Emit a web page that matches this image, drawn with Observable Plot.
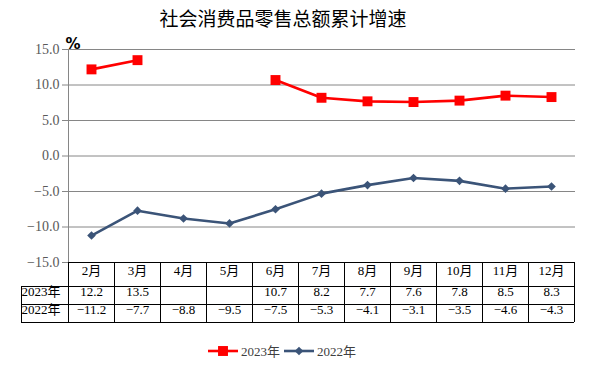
<!DOCTYPE html>
<html><head><meta charset="utf-8">
<script src="https://cdn.jsdelivr.net/npm/d3@7"></script>
<script src="https://cdn.jsdelivr.net/npm/@observablehq/plot@0.6"></script>
<style>
body{margin:0;background:#fff;}
#wrap{position:relative;width:590px;height:371px;overflow:hidden;background:#fff;}
#title{position:absolute;top:4px;left:0;width:566px;text-align:center;font-family:"Noto Sans CJK SC",sans-serif;font-size:19px;color:#000;}
#legend{position:absolute;top:341px;left:0;width:564px;display:flex;justify-content:center;gap:4px;font-family:"Liberation Serif","Noto Sans CJK SC",serif;font-size:13px;color:#404040;align-items:center;}
#legend .item{display:flex;align-items:center;gap:3px;}
#plot{position:absolute;top:0;left:0;}
#plot svg text{font-family:"Liberation Serif","Noto Sans CJK SC",serif;}
#plot svg g.unit text{font-family:"DejaVu Sans",sans-serif;font-size:15px;font-weight:bold;}
</style></head><body><div id="wrap"><div id="plot"></div><div id="title"></div><div id="legend"></div></div>
<script>
const months = ["2月","3月","4月","5月","6月","7月","8月","9月","10月","11月","12月"];
const series = ["2023年","2022年"];
const values2023 = [12.2,13.5,null,null,10.7,8.2,7.7,7.6,7.8,8.5,8.3];
const values2022 = [-11.2,-7.7,-8.8,-9.5,-7.5,-5.3,-4.1,-3.1,-3.5,-4.6,-4.3];
const yTicks = [-15,-10,-5,0,5,10,15];
const colors = ["#ff0000","#3b5478"];
const symbols = ["square","diamond2"];
const titleText = "社会消费品零售总额累计增速";
const unit = "%";

const fmt = d3.format(".1f");
const font = '"Liberation Serif","Noto Sans CJK SC",serif';
const seriesValues = [values2023, values2022];
const data = series.flatMap((s, k) => months.map((m, i) => ({month: m, series: s, value: seriesValues[k][i]})));
const radii = [5.6, 3.9];
const rowDy = [33, 51];

const marks = [
  Plot.ruleY(yTicks, {stroke: "#868686", strokeWidth: 1}),
  Plot.axisY({ticks: yTicks, tickFormat: fmt, tickSize: 5, tickPadding: 3, stroke: "#868686", fill: "#595959", fontSize: 14, label: null}),
  Plot.text([unit], {frameAnchor: "top-left", text: d => d, dx: -2, dy: -11, fill: "#000", className: "unit"}),
  Plot.line(data, {x: "month", y: "value", z: "series", stroke: "series", strokeWidth: 2.6}),
  Plot.text(months, {x: d => d, text: d => d, frameAnchor: "bottom", dy: 12, fill: "#000", fontSize: 13})
];
series.forEach((s, k) => {
  const sub = data.filter(d => d.series === s);
  marks.push(Plot.dot(sub, {x: "month", y: "value", fill: "series", symbol: "series", r: radii[k], stroke: "none"}));
  marks.push(Plot.text(sub, {x: "month", text: d => d.value == null ? "" : fmt(d.value), frameAnchor: "bottom", dy: rowDy[k], fill: "#000", fontSize: 13}));
  marks.push(Plot.text([s], {text: d => d, frameAnchor: "bottom-left", textAnchor: "start", dx: -46, dy: rowDy[k], fill: "#000", fontSize: 13}));
});

const plot = Plot.plot({
  width: 590, height: 371,
  marginTop: 49, marginBottom: 109, marginLeft: 67, marginRight: 15,
  style: {fontFamily: font, fontSize: "13px", background: "transparent", overflow: "visible"},
  x: {type: "point", domain: months, padding: 0.5, axis: null},
  y: {domain: [-15, 15], axis: null},
  color: {domain: series, range: colors},
  symbol: {domain: series, range: symbols},
  marks
});
document.getElementById("plot").appendChild(plot);

// axis line + table grid from the plot's scales
const xs = plot.scale("x"), ys = plot.scale("y");
const pos = months.map(m => xs.apply(m));
const step = pos[1] - pos[0];
const tLeft = pos[0] - step / 2, tRight = pos[pos.length - 1] + step / 2;
const tTop = ys.apply(-15);
const rowsY = [tTop, tTop + 24, tTop + 42, tTop + 60];
const svg = d3.select(plot);
const g = svg.append("g").attr("stroke", "#000").attr("stroke-width", 1).attr("shape-rendering", "crispEdges");
svg.append("line").attr("x1", tLeft).attr("x2", tLeft).attr("y1", ys.apply(15)).attr("y2", tTop).attr("stroke", "#868686").attr("shape-rendering", "crispEdges");
g.append("line").attr("x1", tLeft).attr("x2", tRight).attr("y1", rowsY[0]).attr("y2", rowsY[0]);
[1, 2, 3].forEach(r => g.append("line").attr("x1", tLeft - 47).attr("x2", tRight).attr("y1", rowsY[r]).attr("y2", rowsY[r]));
g.append("line").attr("x1", tLeft - 47).attr("x2", tLeft - 47).attr("y1", rowsY[1]).attr("y2", rowsY[3]);
for (let i = 0; i <= months.length; i++) {
  const x = tLeft + i * step;
  g.append("line").attr("x1", x).attr("x2", x).attr("y1", rowsY[0]).attr("y2", rowsY[3]);
}

document.getElementById("title").textContent = titleText;
const legend = d3.select("#legend");
series.forEach((s, k) => {
  const it = legend.append("div").attr("class", "item");
  const sv = it.append("svg").attr("width", 30).attr("height", 12);
  sv.append("line").attr("x1", 0).attr("x2", 30).attr("y1", 6).attr("y2", 6).attr("stroke", colors[k]).attr("stroke-width", 2.6);
  const sym = k === 0 ? d3.symbolSquare : d3.symbolDiamond2;
  sv.append("path").attr("d", d3.symbol(sym, Math.PI * radii[k] * radii[k])()).attr("transform", "translate(15,6)").attr("fill", colors[k]);
  it.append("span").text(s);
});
</script>
</body></html>
